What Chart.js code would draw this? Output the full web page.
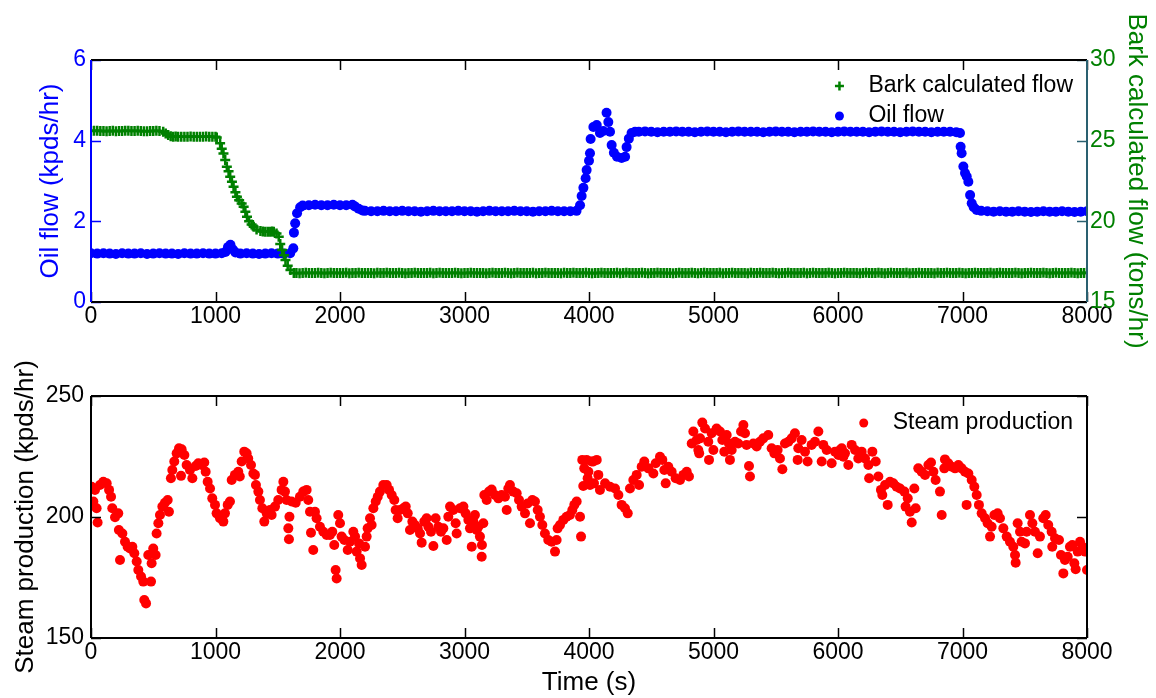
<!DOCTYPE html>
<html>
<head>
<meta charset="utf-8">
<script src="https://cdn.jsdelivr.net/npm/chart.js@4.4.0/dist/chart.umd.min.js"></script>
<style>
  html, body { margin: 0; padding: 0; background: #fff; }
  #wrap { position: relative; width: 1156px; height: 698px; }
  canvas { position: absolute; left: 0; }
  #flows { top: 0; }
  #steam { top: 350px; }
</style>
</head>
<body>
<div id="wrap">
  <canvas id="flows" width="1156" height="350"></canvas>
  <canvas id="steam" width="1156" height="348"></canvas>
</div>
<script>
// tick labels
const timeTicks = [0, 1000, 2000, 3000, 4000, 5000, 6000, 7000, 8000];
const oilTicks = [0, 2, 4, 6];
const barkTicks = [15, 20, 25, 30];
const steamTicks = [150, 200, 250];

// oil flow (kpds/hr)
const oilTime = [
  0,50,100,150,200,250,300,350,400,450,500,550,600,650,700,750,800,850,900,950,1000,1050,
  1080,1100,1120,1140,1160,
  1200,1250,1300,1350,1400,1450,1500,1550,1600,
  1625,1630,1640,1655,1680,1700,
  1750,1800,1850,1900,1950,2000,2050,2100,
  2120,2150,2180,
  2200,2250,2300,2350,2400,2450,2500,2550,2600,2650,
  2700,2750,2800,2850,2900,2950,3000,3050,3100,3150,
  3200,3250,3300,3350,3400,3450,3500,3550,3600,3650,
  3700,3750,3800,3850,3900,
  3928,3941,3955,3973,3981,4000,4008,4013,4035,4062,4088,4115,4141,4155,4169,4182,4200,4225,4262,4290,4302,4320,4342,4370,
  4400,4450,4500,4550,4600,4650,4700,4750,4800,4850,
  4900,4950,5000,5050,5100,5150,5200,5250,5300,5350,
  5400,5450,5500,5550,5600,5650,5700,5750,5800,5850,
  5900,5950,6000,6050,6100,6150,6200,6250,6300,6350,
  6400,6450,6500,6550,6600,6650,6700,6750,6800,6850,
  6900,6950,
  6980,6985,6993,7007,7020,7034,7047,7061,7074,7090,7114,
  7150,7200,7250,7300,7350,7400,7450,7500,7550,7600,7650,7700,7750,7800,7850,7900,7950,8000
];
const oilFlow = [
  1.21,1.2,1.21,1.2,1.19,1.21,1.2,1.2,1.21,1.19,1.2,1.21,1.2,1.2,1.19,1.21,1.2,1.2,1.21,1.2,1.2,1.21,
  1.24,1.36,1.42,1.3,1.23,
  1.2,1.21,1.2,1.19,1.2,1.21,1.2,1.2,1.21,
  1.33,1.72,1.95,2.2,2.35,2.39,
  2.4,2.41,2.4,2.4,2.41,2.4,2.4,2.41,
  2.37,2.31,2.27,
  2.26,2.25,2.25,2.26,2.25,2.25,2.26,2.25,2.25,2.24,
  2.25,2.26,2.25,2.25,2.25,2.26,2.25,2.25,2.24,2.25,
  2.26,2.25,2.25,2.25,2.26,2.25,2.25,2.24,2.25,2.25,
  2.26,2.25,2.25,2.25,2.26,
  2.4,2.63,2.83,3.07,3.27,3.5,3.69,4.04,4.34,4.39,4.19,4.24,4.69,4.46,4.22,3.89,3.7,3.6,3.57,3.6,3.84,4.05,4.19,4.22,
  4.22,4.23,4.22,4.21,4.22,4.22,4.23,4.22,4.22,4.21,
  4.22,4.23,4.22,4.22,4.21,4.22,4.23,4.22,4.22,4.22,
  4.21,4.22,4.23,4.22,4.22,4.21,4.22,4.22,4.23,4.22,
  4.22,4.21,4.22,4.23,4.22,4.22,4.22,4.21,4.22,4.23,
  4.22,4.22,4.21,4.22,4.23,4.22,4.22,4.21,4.22,4.22,
  4.22,4.21,
  4.19,3.85,3.69,3.36,3.2,3.11,2.98,2.65,2.45,2.35,2.28,
  2.26,2.25,2.24,2.25,2.24,2.24,2.25,2.24,2.23,2.24,2.25,2.24,2.24,2.25,2.24,2.23,2.24,2.25
];

// bark calculated flow (tons/hr)
const barkTime = [
  0,25,50,75,100,125,150,175,200,225,250,275,300,325,350,375,400,425,450,475,500,525,550,
  580,600,620,640,660,
  680,700,725,750,775,800,825,850,875,900,925,950,975,1000,
  1010,1037,1050,1064,1078,1091,1105,1118,1132,1145,1160,1172,1190,1210,1226,1240,1253,1270,1290,1307,
  1330,1361,1380,1400,1420,1440,1455,1468,1490,1508,1520,1535,1550,1562,1580,1602,1629,
  1650,1675,1700,1725,1750,1775,1800,1825,1850,1875,1900,1925,1950,1975,2000,2025,2050,2075,2100,2125,
  2150,2175,2200,2225,2250,2275,2300,2325,2350,2375,2400,2425,2450,2475,2500,2525,2550,2575,2600,2625,
  2650,2675,2700,2725,2750,2775,2800,2825,2850,2875,2900,2925,2950,2975,3000,3025,3050,3075,3100,3125,
  3150,3175,3200,3225,3250,3275,3300,3325,3350,3375,3400,3425,3450,3475,3500,3525,3550,3575,3600,3625,
  3650,3675,3700,3725,3750,3775,3800,3825,3850,3875,3900,3925,3950,3975,4000,4025,4050,4075,4100,4125,
  4150,4175,4200,4225,4250,4275,4300,4325,4350,4375,4400,4425,4450,4475,4500,4525,4550,4575,4600,4625,
  4650,4675,4700,4725,4750,4775,4800,4825,4850,4875,4900,4925,4950,4975,5000,5025,5050,5075,5100,5125,
  5150,5175,5200,5225,5250,5275,5300,5325,5350,5375,5400,5425,5450,5475,5500,5525,5550,5575,5600,5625,
  5650,5675,5700,5725,5750,5775,5800,5825,5850,5875,5900,5925,5950,5975,6000,6025,6050,6075,6100,6125,
  6150,6175,6200,6225,6250,6275,6300,6325,6350,6375,6400,6425,6450,6475,6500,6525,6550,6575,6600,6625,
  6650,6675,6700,6725,6750,6775,6800,6825,6850,6875,6900,6925,6950,6975,7000,7025,7050,7075,7100,7125,
  7150,7175,7200,7225,7250,7275,7300,7325,7350,7375,7400,7425,7450,7475,7500,7525,7550,7575,7600,7625,
  7650,7675,7700,7725,7750,7775,7800,7825,7850,7875,7900,7925,7950,7975,8000
];
const barkFlow = [
  25.6,25.61,25.62,25.6,25.6,25.59,25.6,25.61,25.58,25.6,25.6,25.62,25.62,25.6,25.6,25.61,25.6,25.59,25.58,25.6,25.6,25.61,25.6,
  25.55,25.45,25.35,25.28,25.25,
  25.26,25.25,25.24,25.24,25.25,25.26,25.25,25.24,25.25,25.25,25.26,25.24,25.25,25.25,
  25.2,24.84,24.5,24.2,23.8,23.39,23.1,22.77,22.45,22.15,21.8,21.53,21.3,21.1,20.91,20.6,20.29,20.0,19.8,19.67,
  19.5,19.4,19.37,19.36,19.36,19.36,19.37,19.36,19.25,19.05,18.6,18.22,17.9,17.6,17.25,16.98,16.8,
  16.8,16.78,16.8,16.82,16.8,16.79,16.8,16.81,16.8,16.78,16.8,16.82,16.8,16.79,16.8,16.8,16.81,16.78,16.8,16.8,
  16.82,16.8,16.79,16.8,16.8,16.78,16.81,16.8,16.8,16.82,16.8,16.79,16.8,16.81,16.8,16.78,16.8,16.8,16.82,16.8,
  16.79,16.8,16.8,16.81,16.78,16.8,16.82,16.8,16.8,16.79,16.8,16.81,16.8,16.78,16.8,16.8,16.82,16.79,16.8,16.8,
  16.8,16.78,16.8,16.82,16.8,16.79,16.8,16.81,16.8,16.78,16.8,16.82,16.8,16.79,16.8,16.8,16.81,16.78,16.8,16.8,
  16.82,16.8,16.79,16.8,16.8,16.78,16.81,16.8,16.8,16.82,16.8,16.79,16.8,16.81,16.8,16.78,16.8,16.8,16.82,16.8,
  16.79,16.8,16.8,16.81,16.78,16.8,16.82,16.8,16.8,16.79,16.8,16.81,16.8,16.78,16.8,16.8,16.82,16.79,16.8,16.8,
  16.8,16.78,16.8,16.82,16.8,16.79,16.8,16.81,16.8,16.78,16.8,16.82,16.8,16.79,16.8,16.8,16.81,16.78,16.8,16.8,
  16.82,16.8,16.79,16.8,16.8,16.78,16.81,16.8,16.8,16.82,16.8,16.79,16.8,16.81,16.8,16.78,16.8,16.8,16.82,16.8,
  16.79,16.8,16.8,16.81,16.78,16.8,16.82,16.8,16.8,16.79,16.8,16.81,16.8,16.78,16.8,16.8,16.82,16.79,16.8,16.8,
  16.8,16.78,16.8,16.82,16.8,16.79,16.8,16.81,16.8,16.78,16.8,16.82,16.8,16.79,16.8,16.8,16.81,16.78,16.8,16.8,
  16.82,16.8,16.79,16.8,16.8,16.78,16.81,16.8,16.8,16.82,16.8,16.79,16.8,16.81,16.8,16.78,16.8,16.8,16.82,16.8,
  16.79,16.8,16.8,16.81,16.78,16.8,16.82,16.8,16.8,16.79,16.8,16.81,16.8,16.78,16.8,16.8,16.82,16.79,16.8,16.8,
  16.81,16.8,16.78,16.8,16.82,16.8,16.8,16.79,16.8,16.81,16.8,16.78,16.8,16.8,16.82
];

// steam production (kpds/hr)
const steamTime = [
  5,19,32,45,53,72,99,126,145,161,
  171,193,219,224,233,252,273,294,313,332,
  348,367,380,402,420,428,442,460,482,487,
  500,519,527,541,554,573,594,616,626,642,
  653,669,688,707,723,728,750,768,795,814,
  841,862,889,910,921,937,956,974,996,1009,
  1036,1063,1076,1098,1116,1130,1156,1183,1195,1210,
  1231,1250,1263,1285,1304,1317,1325,1344,1357,1376,
  1392,1411,1437,1451,1478,1504,1531,1545,1558,1571,
  1585,1590,1594,1611,1644,1678,1705,1732,1745,1759,
  1767,1785,1799,1812,1839,1866,1893,1919,1938,1954,
  1965,1973,1986,2000,2013,2035,2062,2080,2107,2121,
  2134,2153,2161,2174,2201,2214,2222,2241,2254,2268,
  2287,2303,2321,2348,2375,2394,2415,2436,2447,2463,
  2482,2509,2528,2544,2562,2581,2602,2624,2643,2656,
  2677,2696,2710,2731,2750,2768,2790,2811,2830,2857,
  2870,2884,2910,2929,2937,2964,2991,3009,3031,3044,
  3058,3071,3084,3098,3111,3124,3138,3140,3151,3159,
  3178,3197,3218,3245,3272,3298,3325,3339,3352,3365,
  3392,3419,3438,3459,3486,3507,3526,3545,3566,3588,
  3606,3625,3646,3673,3700,3727,3740,3748,3767,3794,
  3820,3847,3866,3882,3901,3928,3936,3946,3954,3962,
  3981,3989,3995,4008,4021,4035,4040,4062,4075,4088,
  4129,4169,4209,4236,4262,4289,4311,4329,4356,4383,
  4402,4423,4444,4477,4517,4536,4570,4589,4605,4616,
  4637,4664,4696,4731,4758,4785,4803,4825,4838,4865,
  4878,4885,4892,4910,4932,4958,4964,4985,4999,5025,
  5052,5071,5087,5106,5124,5132,5146,5173,5199,5221,
  5240,5253,5266,5285,5293,5320,5347,5373,5400,5440,
  5467,5489,5515,5534,5553,5574,5601,5628,5654,5676,
  5681,5708,5735,5756,5788,5815,5842,5869,5882,5909,
  5949,5976,6003,6016,6030,6043,6056,6083,6110,6137,
  6163,6190,6217,6244,6250,6276,6303,6324,6345,6356,
  6378,6399,6418,6444,6471,6498,6533,6543,6560,6578,
  6592,6613,6624,6645,6672,6699,6726,6747,6766,6784,
  6819,6833,6854,6859,6886,6913,6940,6967,6993,7020,
  7033,7047,7074,7095,7114,7132,7154,7181,7202,7221,
  7234,7256,7282,7301,7328,7355,7381,7408,7422,7427,
  7443,7462,7475,7502,7515,7542,7561,7582,7604,7622,
  7649,7668,7689,7716,7721,7743,7775,7791,7810,7823,
  7845,7863,7882,7898,7909,7925,7944,7963,7984,8000
];
const steamProd = [
  212.5,206.4,211.2,203.6,197.7,213.2,214.6,213.9,211.2,208.4,
  203.6,199.9,201.5,194.6,182.2,193.2,189.8,187.7,187.0,187.7,
  185.0,181.6,178.1,175.4,173.3,165.7,164.3,184.3,173.3,180.9,
  187.0,184.3,193.2,197.4,200.8,204.3,205.9,207.0,202.2,216.0,
  219.4,222.9,226.3,228.4,217.0,228.0,225.6,221.5,219.4,216.0,
  221.1,222.2,221.5,222.5,218.7,214.6,211.8,207.7,205.0,201.5,
  199.5,198.1,201.5,205.0,206.4,215.3,217.4,218.7,216.7,222.9,
  227.0,226.3,224.2,221.5,218.0,217.4,213.2,210.5,207.0,203.6,
  198.1,201.5,202.9,200.8,204.3,207.0,211.2,214.6,210.5,207.0,
  195.3,190.8,200.1,206.4,205.9,208.4,210.5,211.2,207.0,202.2,
  193.5,186.4,202.2,199.5,196.0,193.9,192.6,192.6,193.9,188.4,
  178.1,174.6,200.8,197.4,191.9,190.5,186.4,189.8,193.9,191.9,
  185.7,189.1,182.9,180.2,187.7,191.9,195.3,199.5,196.7,203.6,
  206.4,208.4,210.5,213.2,213.2,211.2,209.1,207.0,202.9,199.5,
  202.9,203.6,204.3,201.5,194.6,198.1,196.7,195.3,193.2,189.4,
  198.1,199.5,196.0,193.9,188.0,199.5,196.0,193.9,195.3,190.5,
  200.1,204.3,202.9,197.4,193.2,203.6,204.3,201.5,198.8,195.3,
  187.7,198.1,200.8,194.6,196.0,191.9,183.6,188.4,197.4,209.1,
  207.0,210.5,211.4,209.1,207.7,209.1,208.4,202.9,211.8,213.2,
  210.5,209.8,207.0,204.3,201.5,205.6,197.4,207.0,206.4,202.9,
  200.1,196.7,193.2,190.5,189.8,185.7,190.5,195.3,196.7,198.8,
  200.1,200.8,202.9,205.0,206.4,200.1,191.9,223.6,212.8,220.1,
  223.6,216.0,218.7,213.2,222.9,222.9,213.9,223.6,217.4,211.2,
  213.9,212.5,211.8,209.1,205.0,203.6,201.5,211.8,215.3,217.4,
  213.2,220.8,222.9,220.1,218.0,222.2,224.9,223.6,219.4,213.9,
  220.8,218.7,216.0,215.3,217.4,218.7,216.7,230.4,235.3,231.8,
  227.7,226.3,232.5,239.0,236.6,231.1,223.6,234.6,227.7,236.6,
  235.3,231.8,227.0,233.9,230.4,223.6,227.7,231.1,230.4,235.3,
  238.0,234.6,229.8,221.1,216.7,230.4,229.1,231.1,232.5,233.9,
  228.4,226.3,227.7,224.2,219.7,230.4,231.1,232.5,234.6,223.6,
  228.4,231.8,227.0,222.9,229.8,231.1,235.3,222.9,229.8,227.7,
  222.2,227.0,225.6,227.7,228.4,224.9,226.3,221.5,229.8,227.7,
  224.2,227.0,224.2,221.5,216.0,227.0,222.9,216.7,211.2,209.1,
  213.2,205.0,214.6,213.9,212.5,211.8,210.5,204.3,207.7,202.2,
  197.7,211.8,203.6,220.1,218.7,217.4,221.5,222.5,218.7,215.3,
  210.5,200.8,220.1,223.8,222.2,220.8,220.1,221.5,220.1,218.7,
  205.0,218.0,215.3,212.5,209.1,205.0,201.5,199.5,197.4,191.9,
  196.0,200.8,201.5,199.5,195.3,191.9,189.8,187.7,184.3,181.1,
  197.4,193.9,189.8,189.1,193.9,200.8,197.4,193.9,185.0,191.9,
  199.5,200.8,196.7,193.9,187.7,191.2,190.5,184.3,176.7,182.2,
  183.6,187.7,188.4,180.9,178.4,185.7,189.8,187.7,185.7,178.1
];

const FONT = "'Liberation Sans', Arial, Helvetica, sans-serif";
const BLUE = '#0000ff';
const GREEN = '#008000';
const RED = '#ff0000';
const TEAL = '#2a6070';

const toPoints = (xs, ys) => xs.map((x, i) => ({ x: x, y: ys[i] }));
const fixedTicks = (list) => (scale) => { scale.ticks = list.map(v => ({ value: v })); };
const plainLabel = (v) => String(v);

// matlab style box: inward ticks on all four sides + frame
const boxAxes = {
  id: 'boxAxes',
  afterDatasetsDraw(chart, args, opts) {
    const { ctx, chartArea: a, scales } = chart;
    const len = 10;
    const seg = (x1, y1, x2, y2, color, w) => {
      ctx.beginPath();
      ctx.strokeStyle = color;
      ctx.lineWidth = w || 1.5;
      ctx.moveTo(x1, y1);
      ctx.lineTo(x2, y2);
      ctx.stroke();
    };
    ctx.save();
    scales.x.ticks.forEach(t => {
      const px = Math.round(scales.x.getPixelForValue(t.value)) + 0.5;
      seg(px, a.bottom, px, a.bottom - len, '#000');
      seg(px, a.top, px, a.top + len, '#000');
    });
    scales.y.ticks.forEach(t => {
      const py = Math.round(scales.y.getPixelForValue(t.value)) + 0.5;
      seg(a.left, py, a.left + len, py, opts.left);
      if (!scales.y1) seg(a.right, py, a.right - len, py, opts.right);
    });
    if (scales.y1) {
      scales.y1.ticks.forEach(t => {
        const py = Math.round(scales.y1.getPixelForValue(t.value)) + 0.5;
        seg(a.right, py, a.right - len, py, opts.right);
      });
    }
    seg(a.left, a.top, a.right, a.top, '#000', 2);
    seg(a.left, a.bottom, a.right, a.bottom, '#000', 2);
    seg(a.left, a.top, a.left, a.bottom, opts.left, 2);
    seg(a.right, a.top, a.right, a.bottom, opts.right, 2);
    ctx.restore();
  }
};

// legend in the upper right corner of the plot, no box
const cornerLegend = {
  id: 'cornerLegend',
  afterDraw(chart, args, opts) {
    const { ctx, chartArea: a } = chart;
    const sets = chart.data.datasets;
    ctx.save();
    ctx.font = '23px ' + FONT;
    const w = Math.max(...sets.map(d => ctx.measureText(d.label).width));
    const textX = a.right - 14 - w;
    sets.forEach((d, i) => {
      const y = a.top + opts.top + i * 30;
      ctx.fillStyle = d.pointBackgroundColor;
      ctx.strokeStyle = d.pointBorderColor;
      ctx.lineWidth = d.pointBorderWidth;
      Chart.helpers.drawPoint(ctx, {
        pointStyle: d.pointStyle, radius: d.legendRadius,
        borderWidth: d.pointBorderWidth, rotation: 0
      }, textX - 29, y);
      ctx.fillStyle = '#000';
      ctx.textAlign = 'left';
      ctx.textBaseline = 'middle';
      ctx.fillText(d.label, textX, y);
    });
    ctx.restore();
  }
};

const tickFont = { family: FONT, size: 23 };
const titleFont = { family: FONT, size: 26 };

const timeAxis = (height, title) => ({
  type: 'linear', min: 0, max: 8000,
  afterBuildTicks: fixedTicks(timeTicks),
  afterFit: s => { s.height = height; },
  grid: { display: false, drawTicks: false },
  border: { display: false },
  ticks: { color: '#000', font: tickFont, padding: 1, maxRotation: 0, autoSkip: false, callback: plainLabel },
  title: title ? { display: true, text: title, color: '#000', font: titleFont, padding: { top: 0, bottom: 0 } } : { display: false }
});

const common = {
  responsive: false,
  animation: false,
  devicePixelRatio: 1,
  events: [],
  plugins: { legend: { display: false }, tooltip: { enabled: false } }
};

new Chart(document.getElementById('flows'), {
  type: 'scatter',
  data: {
    datasets: [
      {
        label: 'Bark calculated flow',
        data: toPoints(barkTime, barkFlow),
        yAxisID: 'y1',
        pointStyle: 'cross',
        pointRadius: 5,
        legendRadius: 4.5,
        pointBorderWidth: 2.5,
        pointBorderColor: GREEN,
        pointBackgroundColor: GREEN
      },
      {
        label: 'Oil flow',
        data: toPoints(oilTime, oilFlow),
        yAxisID: 'y',
        pointStyle: 'circle',
        pointRadius: 5,
        legendRadius: 4.5,
        pointBorderWidth: 0,
        pointBorderColor: BLUE,
        pointBackgroundColor: BLUE
      }
    ]
  },
  options: Object.assign({}, common, {
    layout: { padding: { top: 60, left: 0, right: 0, bottom: 0 } },
    scales: {
      x: timeAxis(48),
      y: {
        type: 'linear', position: 'left', min: 0, max: 6,
        afterBuildTicks: fixedTicks(oilTicks),
        afterFit: s => { s.width = 91; },
        grid: { display: false, drawTicks: false },
        border: { display: false },
        ticks: { color: BLUE, font: tickFont, padding: 5, callback: plainLabel },
        title: { display: true, text: 'Oil flow (kpds/hr)', color: BLUE, font: titleFont, padding: { top: 35 } }
      },
      y1: {
        type: 'linear', position: 'right', min: 15, max: 30,
        afterBuildTicks: fixedTicks(barkTicks),
        afterFit: s => { s.width = 69; },
        grid: { display: false, drawTicks: false },
        border: { display: false },
        ticks: { color: GREEN, font: tickFont, padding: 3, callback: plainLabel },
        title: { display: true, text: 'Bark calculated flow (tons/hr)', color: GREEN, font: titleFont, padding: { top: 4 } }
      }
    },
    plugins: Object.assign({}, common.plugins, {
      boxAxes: { left: BLUE, right: TEAL },
      cornerLegend: { top: 26 }
    })
  }),
  plugins: [boxAxes, cornerLegend]
});

new Chart(document.getElementById('steam'), {
  type: 'scatter',
  data: {
    datasets: [
      {
        label: 'Steam production',
        data: toPoints(steamTime, steamProd),
        pointStyle: 'circle',
        pointRadius: 5,
        legendRadius: 4.5,
        pointBorderWidth: 0,
        pointBorderColor: RED,
        pointBackgroundColor: RED
      }
    ]
  },
  options: Object.assign({}, common, {
    layout: { padding: { top: 46, left: 0, right: 69, bottom: 0 } },
    scales: {
      x: timeAxis(60, 'Time (s)'),
      y: {
        type: 'linear', position: 'left', min: 150, max: 250,
        afterBuildTicks: fixedTicks(steamTicks),
        afterFit: s => { s.width = 91; },
        grid: { display: false, drawTicks: false },
        border: { display: false },
        ticks: { color: '#000', font: tickFont, padding: 7, callback: plainLabel },
        title: { display: true, text: 'Steam production (kpds/hr)', color: '#000', font: titleFont, padding: { top: 10 } }
      }
    },
    plugins: Object.assign({}, common.plugins, {
      boxAxes: { left: '#000', right: '#000' },
      cornerLegend: { top: 27 }
    })
  }),
  plugins: [boxAxes, cornerLegend]
});
</script>
</body>
</html>
